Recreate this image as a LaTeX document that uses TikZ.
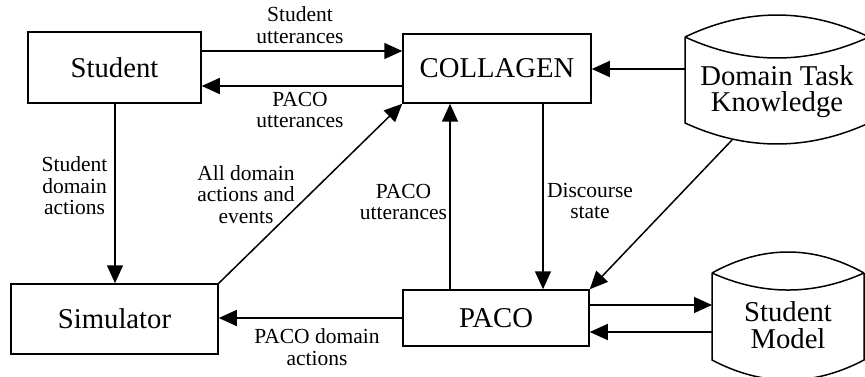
\documentclass[tikz,border=0pt]{standalone}
\usepackage{fontspec}
\setmainfont{Liberation Serif}
\usetikzlibrary{arrows.meta,calc}
\begin{document}
\begin{tikzpicture}[x=1pt,y=-1pt,
  box/.style={draw, line width=1.5pt, inner sep=0pt, font=\fontsize{28.7}{28.7}\selectfont},
  lbl/.style={align=center, inner sep=0pt, font=\fontsize{21.5}{21.5}\selectfont},
  arr/.style={line width=1.5pt, -{Triangle[length=18pt,width=16pt]}},
  store/.style={line width=1.5pt},
  big/.style={align=center, inner sep=0pt, font=\fontsize{28.7}{26.5}\selectfont}]
\useasboundingbox (0,0) rectangle (865,377);
\clip (0,0) rectangle (865,377);

% boxes
\node[box, minimum width=173pt, minimum height=71pt] (student) at (114.5,67.5) {Student};
\node[box, minimum width=188pt, minimum height=69pt] (collagen) at (497,68.5) {COLLAGEN};
\node[box, minimum width=207pt, minimum height=70pt] (sim) at (114.5,319) {Simulator};
\node[box, minimum width=186pt, minimum height=56pt] (paco) at (496,318) {PACO};

% Domain Task Knowledge store
\draw[store] (685,37) .. controls (746.3,7.7) and (807.7,7.7) .. (869,37)
  (685,37) .. controls (746.3,65) and (807.7,65) .. (869,37)
  (685,37) -- (685,123) .. controls (746.3,151) and (807.7,151) .. (869,123) -- (869,37);
\node[big] (dtk) at (777,91.5) {Domain Task\\Knowledge};
\coordinate (dtkW) at (685,69);
\coordinate (dtkS) at (732,140);

% Student Model store
\draw[store] (712,273) .. controls (762.7,245) and (813.3,245) .. (864,273)
  (712,273) .. controls (762.7,295.7) and (813.3,295.7) .. (864,273)
  (712,273) -- (712,360) .. controls (762.7,386.7) and (813.3,386.7) .. (864,360) -- (864,273);
\node[big] (sm) at (788,325) {Student\\Model};
\coordinate (smA) at (712,305);
\coordinate (smB) at (712,332);

% connectors
\draw[arr] (student.east |- 0,51) -- (collagen.west |- 0,51);
\draw[arr] (collagen.west |- 0,86) -- (student.east |- 0,86);
\draw[arr] (dtkW) -- (collagen.east |- dtkW);
\draw[arr] (student.south -| 115,0) -- (sim.north -| 115,0);
\draw[arr] (sim.north east) -- (collagen.south west);
\draw[arr] (paco.north -| 450,0) -- (collagen.south -| 450,0);
\draw[arr] (collagen.south -| 543,0) -- (paco.north -| 543,0);
\draw[arr] (dtkS) -- (paco.north east);
\draw[arr] (paco.east |- smA) -- (smA);
\draw[arr] (smB) -- (paco.east |- smB);
\draw[arr] (paco.west |- 0,318) -- (sim.east |- 0,318);

% labels
\node[lbl] (l1) at (300,25.2) {Student\\utterances};
\node[lbl] (l2) at (300,110) {PACO\\utterances};
\node[lbl] (l3) at (74.5,186) {Student\\domain\\actions};
\node[lbl] (l4) at (246,194.5) {All domain\\actions and\\events};
\node[lbl] (l5) at (403.5,202) {PACO\\utterances};
\node[lbl] (l6) at (590,201) {Discourse\\state};
\node[lbl] (l7) at (317,347) {PACO domain\\actions};
\end{tikzpicture}
\end{document}
